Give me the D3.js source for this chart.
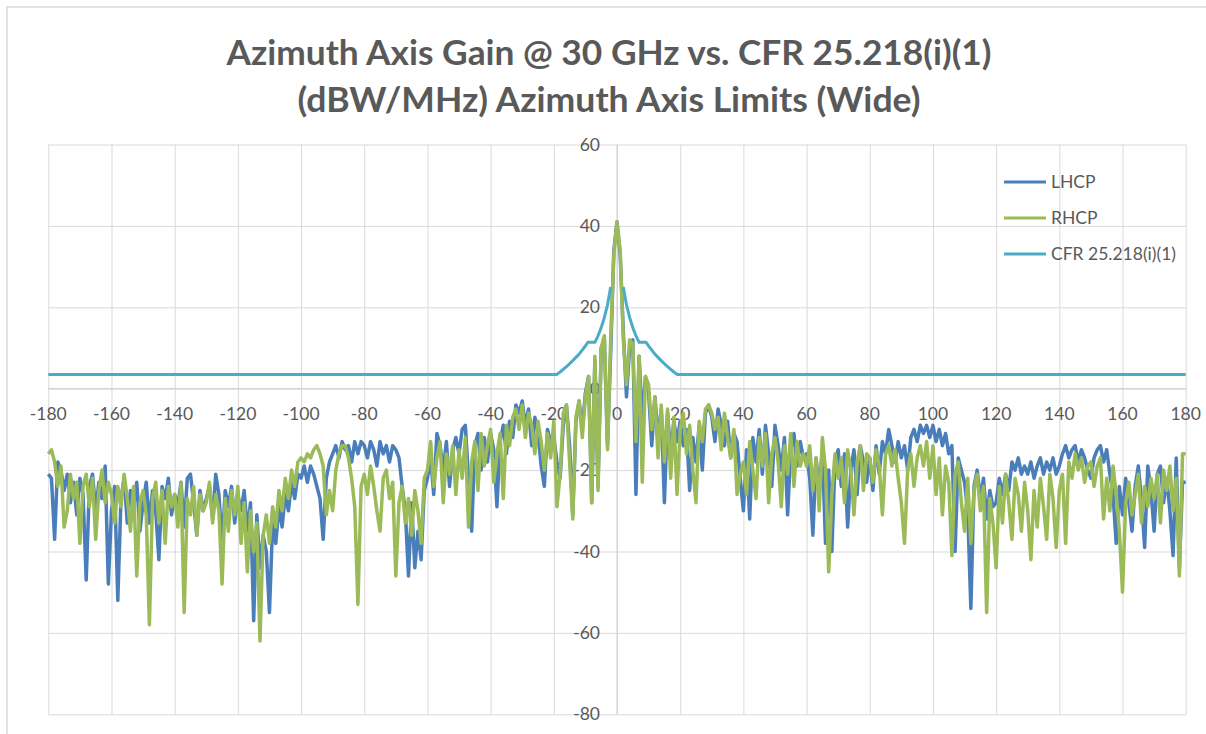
<!DOCTYPE html>
<html>
<head>
<meta charset="utf-8">
<script src="https://cdn.jsdelivr.net/npm/d3@7"></script>
<style>
  body { margin: 0; background: #fff; }
  svg { display: block; font-family: Lato, "Open Sans", sans-serif; }
</style>
</head>
<body>
<div id="chart"></div>
<script>
// chart text
var titleLines = ["Azimuth Axis Gain @ 30 GHz vs. CFR 25.218(i)(1)", "(dBW/MHz) Azimuth Axis Limits (Wide)"];
var seriesNames = ["LHCP", "RHCP", "CFR 25.218(i)(1)"];
var xTicks = [-180, -160, -140, -120, -100, -80, -60, -40, -20, 0, 20, 40, 60, 80, 100, 120, 140, 160, 180];
var yTicks = [-80, -60, -40, -20, 0, 20, 40, 60];

// measured gain, one value per degree from -180 to 180
var lhcp = [
  -21, -22, -37, -18, -20, -25, -21, -28, -23, -31,
  -22, -26, -47, -24, -21, -30, -23, -27, -19, -48,
  -30, -24, -52, -27, -22, -33, -25, -29, -23, -35,
  -28, -23, -33, -25, -30, -42, -24, -27, -22, -31,
  -26, -29, -23, -34, -22, -21, -28, -36, -25, -30,
  -27, -24, -32, -21, -26, -38, -25, -29, -24, -33,
  -26, -30, -25, -35, -28, -57, -31, -44, -36, -40,
  -55, -33, -38, -29, -34, -26, -30, -23, -27, -21,
  -22, -19, -23, -19, -21, -24, -27, -37, -22, -18,
  -16, -14, -17, -13, -15, -14, -18, -13, -16, -13,
  -14, -17, -13, -15, -19, -13, -16, -14, -18, -14,
  -15, -17, -24, -30, -46, -28, -44, -35, -42, -25,
  -22, -17, -26, -11, -14, -20, -13, -24, -15, -12,
  -16, -10, -9, -22, -35, -14, -11, -20, -12, -18,
  -11, -15, -29, -13, -9, -16, -8, -12, -4, -6,
  -3, -9, -5, -14, -7, -11, -19, -24, -10, -13,
  -12, -18, -22, -9, -4, -14, -31, -8, -3, -10,
  -1, 3, -28, 7, -24, 10, 12, -14, 9, 34,
  41,
  33, 14, -2, 10, 12, -26, 8, -8, 3,
  -1, -14, -2, -12, -5, -28, -6, -16, -8, -13,
  -8, -14, -10, -25, -12, -18, -9, -20, -6, -4,
  -7, -13, -5, -9, -14, -8, -17, -11, -13, -22,
  -30, -15, -32, -12, -18, -10, -21, -9, -16, -24,
  -9, -14, -20, -12, -31, -15, -11, -19, -13, -17,
  -16, -22, -36, -17, -25, -15, -38, -20, -40, -18,
  -15, -24, -16, -34, -20, -15, -26, -14, -18, -23,
  -17, -25, -14, -21, -13, -16, -10, -14, -18, -13,
  -17, -14, -20, -12, -10, -13, -9, -11, -9, -12,
  -9, -13, -10, -14, -11, -16, -14, -40, -17, -20,
  -23, -30, -54, -24, -20, -27, -22, -32, -25, -29,
  -28, -22, -26, -21, -25, -18, -20, -17, -21, -19,
  -21, -18, -22, -19, -17, -21, -18, -20, -17, -21,
  -19, -16, -14, -17, -15, -14, -18, -15, -17, -20,
  -22, -17, -15, -14, -18, -15, -21, -26, -38, -24,
  -31, -22, -28, -35, -24, -19, -27, -39, -19, -25,
  -35, -21, -19, -28, -22, -30, -41, -17, -44, -23, -23
];
var rhcp = [
  -16, -15, -18, -24, -19, -34, -30, -21, -27, -23,
  -38, -24, -21, -29, -22, -37, -25, -20, -28, -23,
  -26, -33, -24, -29, -21, -27, -35, -24, -46, -28,
  -25, -31, -58, -27, -23, -33, -25, -38, -24, -29,
  -26, -34, -23, -55, -27, -31, -24, -36, -26, -30,
  -28, -23, -33, -26, -30, -48, -27, -35, -25, -31,
  -24, -38, -28, -45, -30, -40, -33, -62, -36, -31,
  -38, -29, -34, -25, -30, -22, -27, -20, -24, -18,
  -17, -18, -16, -17, -15, -14, -16, -19, -31, -25,
  -30, -20, -16, -14, -14, -17, -22, -29, -53, -24,
  -21, -26, -19, -24, -30, -35, -22, -20, -27, -23,
  -46, -28, -24, -33, -27, -36, -25, -30, -38, -22,
  -20, -13, -24, -17, -13, -28, -16, -21, -14, -26,
  -15, -22, -12, -34, -18, -13, -25, -11, -19, -14,
  -10, -23, -16, -11, -27, -9, -14, -7, -5, -10,
  -4, -12, -6, -9, -16, -8, -13, -20, -11, -17,
  -8, -29, -21, -6, -4, -18, -32, -7, -3, -12,
  -2, 3, -28, 8, -25, 10, 13, -15, 12, 33,
  41,
  34, 12, 1, 12, 11, -13, 8, -23, 3,
  1, -10, -2, -17, -4, -18, -5, -22, -7, -26,
  -10, -6, -16, -9, -20, -28, -8, -13, -5, -4,
  -6, -10, -7, -15, -6, -12, -17, -10, -26, -21,
  -18, -26, -13, -20, -27, -12, -19, -11, -28, -16,
  -12, -18, -29, -14, -21, -11, -24, -13, -19, -16,
  -19, -14, -25, -17, -30, -12, -20, -45, -26, -16,
  -22, -17, -28, -15, -20, -31, -18, -14, -25, -16,
  -17, -23, -15, -19, -31, -16, -14, -19, -15, -22,
  -28, -38, -20, -16, -24, -17, -14, -19, -13, -22,
  -14, -26, -17, -31, -19, -23, -41, -21, -18, -28,
  -35, -22, -38, -25, -21, -30, -24, -55, -27, -33,
  -44, -24, -33, -21, -28, -37, -22, -26, -35, -23,
  -30, -42, -25, -34, -22, -29, -37, -21, -27, -39,
  -25, -21, -38, -18, -22, -16, -20, -17, -23, -19,
  -18, -24, -19, -17, -32, -22, -30, -19, -26, -35,
  -50, -28, -23, -31, -26, -21, -33, -24, -29, -22,
  -27, -21, -33, -20, -25, -19, -30, -22, -46, -16, -16
];
// CFR 25.218(i)(1) mask (no limit inside +/-2 deg)
var cfrAngle = [-180, -19.1, -18, -16, -14, -12, -10, -9.2, -7, -6, -5, -4, -3, -2, 0, 2, 3, 4, 5, 6, 7, 9.2, 10, 12, 14, 16, 18, 19.1, 180];
var cfrLimit = [3.5, 3.5, 4.1, 5.4, 6.9, 8.5, 10.5, 11.4, 11.4, 13.0, 15.0, 17.5, 20.6, 25.0, null, 25.0, 20.6, 17.5, 15.0, 13.0, 11.4, 11.4, 10.5, 8.5, 6.9, 5.4, 4.1, 3.5, 3.5];

var colors = ["#4a7ebb", "#9bbb59", "#4bacc6"];

var svgWidth = 1206;
var svgHeight = 734;
var plot = { left: 48.3, right: 1185.7, top: 144.5, bottom: 714.3 };

var svg = d3.select("#chart")
  .append("svg")
  .attr("width", svgWidth)
  .attr("height", svgHeight);

// chart frame
svg.append("path")
  .attr("d", "M7," + svgHeight + "V7H" + svgWidth)
  .attr("fill", "none")
  .attr("stroke", "#d9d9d9")
  .attr("stroke-width", 1.5);

var xScale = d3.scaleLinear().domain([-180, 180]).range([plot.left, plot.right]);
var yScale = d3.scaleLinear().domain([-80, 60]).range([plot.bottom, plot.top]);

// gridlines
svg.append("g")
  .attr("transform", `translate(0, ${plot.top})`)
  .call(d3.axisBottom(xScale).tickValues(xTicks).tickSize(plot.bottom - plot.top).tickFormat(""))
  .call(g => g.select(".domain").remove())
  .call(g => g.selectAll("line").attr("stroke", "#d9d9d9"));

svg.append("g")
  .attr("transform", `translate(${plot.left}, 0)`)
  .call(d3.axisRight(yScale).tickValues(yTicks).tickSize(plot.right - plot.left).tickFormat(""))
  .call(g => g.select(".domain").remove())
  .call(g => g.selectAll("line").attr("stroke", "#d9d9d9"));

// axes crossing at 0
svg.append("line")
  .attr("x1", plot.left).attr("x2", plot.right)
  .attr("y1", yScale(0)).attr("y2", yScale(0))
  .attr("stroke", "#d0d0d0");
svg.append("line")
  .attr("x1", xScale(0)).attr("x2", xScale(0))
  .attr("y1", plot.top).attr("y2", plot.bottom)
  .attr("stroke", "#d0d0d0");

// tick labels
svg.append("g").selectAll("text")
  .data(xTicks).enter()
  .append("text")
  .attr("x", d => xScale(d))
  .attr("y", yScale(0) + 31)
  .attr("text-anchor", "middle")
  .attr("font-size", 17.5)
  .attr("fill", "#595959")
  .text(d => d);

svg.append("g").selectAll("text")
  .data(yTicks).enter()
  .append("text")
  .attr("x", xScale(0) - 17)
  .attr("y", d => yScale(d) + 6)
  .attr("text-anchor", "end")
  .attr("font-size", 17.5)
  .attr("fill", "#595959")
  .text(d => d);

// series
var angles = d3.range(-180, 181);
var gainLine = d3.line()
  .defined(d => d[1] != null)
  .x(d => xScale(d[0]))
  .y(d => yScale(d[1]));

[lhcp, rhcp].forEach(function(vals, i) {
  svg.append("path")
    .datum(angles.map((a, j) => [a, vals[j]]))
    .attr("d", gainLine)
    .attr("fill", "none")
    .attr("stroke", colors[i])
    .attr("stroke-width", 3.5)
    .attr("stroke-linejoin", "round");
});

svg.append("path")
  .datum(cfrAngle.map((a, j) => [a, cfrLimit[j]]))
  .attr("d", gainLine)
  .attr("fill", "none")
  .attr("stroke", colors[2])
  .attr("stroke-width", 3)
  .attr("stroke-linejoin", "round");

// legend
var legend = svg.append("g").selectAll("g")
  .data(seriesNames).enter()
  .append("g")
  .attr("transform", (d, i) => `translate(1004, ${182 + i * 36})`);
legend.append("line")
  .attr("x1", 0).attr("x2", 42)
  .attr("stroke", (d, i) => colors[i])
  .attr("stroke-width", 3);
legend.append("text")
  .attr("x", 47)
  .attr("y", 6)
  .attr("font-size", 17.5)
  .attr("fill", "#595959")
  .text(d => d);

// title
svg.append("g").selectAll("text")
  .data(titleLines).enter()
  .append("text")
  .attr("x", 609)
  .attr("y", (d, i) => 65 + i * 47)
  .attr("text-anchor", "middle")
  .attr("font-size", 35)
  .attr("font-weight", "bold")
  .attr("fill", "#595959")
  .attr("textLength", (d, i) => i === 0 ? 765 : 623)
  .attr("lengthAdjust", "spacingAndGlyphs")
  .text(d => d);
</script>
</body>
</html>
